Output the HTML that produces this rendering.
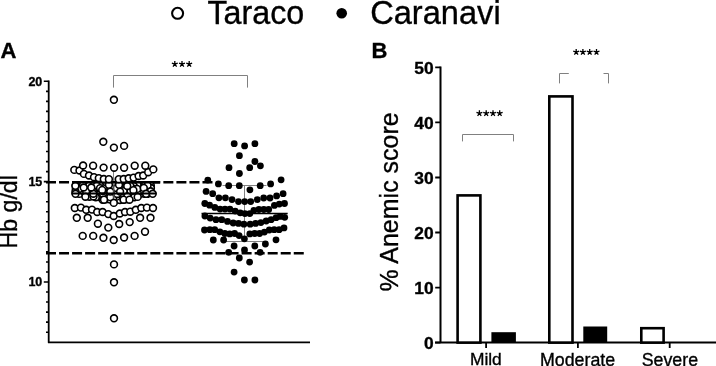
<!DOCTYPE html>
<html><head><meta charset="utf-8"><style>
html,body{margin:0;padding:0;background:#fff;width:716px;height:366px;overflow:hidden}
svg{display:block;filter:grayscale(1)}
text{font-family:"Liberation Sans", sans-serif;fill:#000;stroke:#000;stroke-width:0.35px}
</style></head><body>
<svg width="716" height="366" viewBox="0 0 716 366">
<circle cx="177.6" cy="13.3" r="5.5" fill="none" stroke="#000" stroke-width="2.1"/>
<text transform="translate(207.4,23.6) scale(1,1.04)" font-size="32.3">Taraco</text>
<circle cx="341.7" cy="13.2" r="5.3" fill="#000"/>
<text transform="translate(370.2,23.6) scale(1,1.04)" font-size="32.6">Caranavi</text>
<text x="0.5" y="57.6" font-size="22" font-weight="bold">A</text>
<text x="371.6" y="57.7" font-size="22" font-weight="bold">B</text>
<path d="M48.7,80.4 V342.4 H310" fill="none" stroke="#000" stroke-width="1.8" stroke-linejoin="round"/>
<path d="M46,332.18 H48.7 M46,322.14 H48.7 M46,312.11 H48.7 M46,302.07 H48.7 M46,292.04 H48.7 M43.8,282 H48.7 M46,271.96 H48.7 M46,261.93 H48.7 M46,251.9 H48.7 M46,241.86 H48.7 M46,231.82 H48.7 M46,221.79 H48.7 M46,211.75 H48.7 M46,201.72 H48.7 M46,191.69 H48.7 M43.8,181.65 H48.7 M46,171.62 H48.7 M46,161.58 H48.7 M46,151.54 H48.7 M46,141.51 H48.7 M46,131.47 H48.7 M46,121.44 H48.7 M46,111.41 H48.7 M46,101.37 H48.7 M46,91.34 H48.7 M43.8,81.3 H48.7" stroke="#000" stroke-width="1.6"/>
<text x="42.3" y="85.6" font-size="12.5" font-weight="bold" text-anchor="end">20</text>
<text x="42.3" y="185.95" font-size="12.5" font-weight="bold" text-anchor="end">15</text>
<text x="42.3" y="286.3" font-size="12.5" font-weight="bold" text-anchor="end">10</text>
<text transform="translate(17.4,248.6) rotate(-90)" font-size="23.2">Hb g/dl</text>
<path d="M46,182.3 H212.6 M46,253.3 H304" stroke="#000" stroke-width="2.5" stroke-dasharray="10 3.04"/>
<path d="M113.5,87.6 V75.5 H247.5 V87.6" fill="none" stroke="#808080" stroke-width="1"/>
<path d="M244.5,185.5 V241.5 M222.5,185.5 H266.5 M222.5,241.5 H266.5" stroke="#808080" stroke-width="1"/>
<path d="M113.5,168 V204" stroke="#808080" stroke-width="1"/>
<g fill="#000"><circle cx="234.2" cy="143.7" r="3.4"/><circle cx="244.6" cy="145.9" r="3.4"/><circle cx="254.9" cy="143.7" r="3.4"/><circle cx="239.4" cy="155.7" r="3.4"/><circle cx="254.9" cy="161.5" r="3.4"/><circle cx="260.4" cy="165.8" r="3.4"/><circle cx="229" cy="167.7" r="3.4"/><circle cx="249.7" cy="167.7" r="3.4"/><circle cx="239.4" cy="173.5" r="3.4"/><circle cx="281.1" cy="179.8" r="3.4"/><circle cx="207.8" cy="180.1" r="3.4"/><circle cx="218.4" cy="183.9" r="3.4"/><circle cx="228.7" cy="185.7" r="3.4"/><circle cx="239.3" cy="185.7" r="3.4"/><circle cx="249.9" cy="189.8" r="3.4"/><circle cx="260.2" cy="185.7" r="3.4"/><circle cx="270.6" cy="183.9" r="3.4"/><circle cx="206.1" cy="191.4" r="3.4"/><circle cx="212.7" cy="193.7" r="3.4"/><circle cx="218.9" cy="197.8" r="3.4"/><circle cx="225.4" cy="197.8" r="3.4"/><circle cx="232" cy="199.6" r="3.4"/><circle cx="238.5" cy="201.6" r="3.4"/><circle cx="244.7" cy="201.6" r="3.4"/><circle cx="250.7" cy="201.6" r="3.4"/><circle cx="257.3" cy="199.6" r="3.4"/><circle cx="263.7" cy="198" r="3.4"/><circle cx="270" cy="198" r="3.4"/><circle cx="276.6" cy="195.9" r="3.4"/><circle cx="283.1" cy="193.7" r="3.4"/><circle cx="204.8" cy="203.5" r="3.4"/><circle cx="209.6" cy="205.2" r="3.4"/><circle cx="214.8" cy="207.4" r="3.4"/><circle cx="220.1" cy="209.1" r="3.4"/><circle cx="225" cy="209.1" r="3.4"/><circle cx="229.9" cy="209.1" r="3.4"/><circle cx="235.2" cy="211.1" r="3.4"/><circle cx="240.2" cy="212.8" r="3.4"/><circle cx="244.9" cy="213.6" r="3.4"/><circle cx="249.8" cy="213.6" r="3.4"/><circle cx="253.9" cy="210.3" r="3.4"/><circle cx="258.9" cy="209.5" r="3.4"/><circle cx="263.8" cy="209.5" r="3.4"/><circle cx="268.7" cy="209.5" r="3.4"/><circle cx="274.4" cy="205.4" r="3.4"/><circle cx="279.3" cy="204.1" r="3.4"/><circle cx="284.5" cy="203.5" r="3.4"/><circle cx="204.9" cy="216" r="3.4"/><circle cx="210.2" cy="218.1" r="3.4"/><circle cx="216" cy="219.7" r="3.4"/><circle cx="221.7" cy="219.7" r="3.4"/><circle cx="227.5" cy="221.4" r="3.4"/><circle cx="233.2" cy="223" r="3.4"/><circle cx="238.5" cy="223.4" r="3.4"/><circle cx="243.9" cy="224.2" r="3.4"/><circle cx="250.2" cy="224.2" r="3.4"/><circle cx="255.6" cy="223.4" r="3.4"/><circle cx="260.9" cy="222.6" r="3.4"/><circle cx="266.2" cy="221" r="3.4"/><circle cx="271.1" cy="219.7" r="3.4"/><circle cx="276.1" cy="217.7" r="3.4"/><circle cx="280.2" cy="216.4" r="3.4"/><circle cx="284.7" cy="217.3" r="3.4"/><circle cx="204.5" cy="230" r="3.4"/><circle cx="209.8" cy="229.7" r="3.4"/><circle cx="214.7" cy="229.7" r="3.4"/><circle cx="219.9" cy="231.8" r="3.4"/><circle cx="224.8" cy="233.5" r="3.4"/><circle cx="229.7" cy="233.9" r="3.4"/><circle cx="234.6" cy="233.5" r="3.4"/><circle cx="239.1" cy="235.6" r="3.4"/><circle cx="244.4" cy="238.8" r="3.4"/><circle cx="249.8" cy="233.9" r="3.4"/><circle cx="254.7" cy="233.5" r="3.4"/><circle cx="259.6" cy="233.5" r="3.4"/><circle cx="264.4" cy="232.1" r="3.4"/><circle cx="269.3" cy="230" r="3.4"/><circle cx="274.2" cy="229.7" r="3.4"/><circle cx="279.1" cy="229.7" r="3.4"/><circle cx="284" cy="227.9" r="3.4"/><circle cx="213.3" cy="240" r="3.4"/><circle cx="223.6" cy="240" r="3.4"/><circle cx="234.1" cy="246" r="3.4"/><circle cx="244.5" cy="250" r="3.4"/><circle cx="254.8" cy="246" r="3.4"/><circle cx="265.4" cy="244" r="3.4"/><circle cx="276" cy="239.8" r="3.4"/><circle cx="228.7" cy="252.3" r="3.4"/><circle cx="260.1" cy="252.3" r="3.4"/><circle cx="239.3" cy="258" r="3.4"/><circle cx="249.6" cy="262.1" r="3.4"/><circle cx="234.1" cy="272.1" r="3.4"/><circle cx="244.4" cy="280" r="3.4"/><circle cx="254.9" cy="280" r="3.4"/></g>
<g fill="#fff" stroke="#000" stroke-width="1.6"><circle cx="82.7" cy="235.9" r="3.4"/><circle cx="93.2" cy="235.9" r="3.4"/><circle cx="103.4" cy="237.8" r="3.4"/><circle cx="113.7" cy="240" r="3.4"/><circle cx="124.1" cy="237.5" r="3.4"/><circle cx="134.6" cy="235.9" r="3.4"/><circle cx="145" cy="231.7" r="3.4"/><circle cx="76.8" cy="217.8" r="3.4"/><circle cx="87.7" cy="217.8" r="3.4"/><circle cx="97.9" cy="223.7" r="3.4"/><circle cx="108.3" cy="227.6" r="3.4"/><circle cx="119.2" cy="224" r="3.4"/><circle cx="129.7" cy="222.1" r="3.4"/><circle cx="140.1" cy="217.8" r="3.4"/><circle cx="150.5" cy="217.8" r="3.4"/><circle cx="74.8" cy="208" r="3.4"/><circle cx="80.9" cy="207.6" r="3.4"/><circle cx="86.2" cy="209.8" r="3.4"/><circle cx="92" cy="209.6" r="3.4"/><circle cx="97.2" cy="212" r="3.4"/><circle cx="102.6" cy="212" r="3.4"/><circle cx="108.3" cy="214.1" r="3.4"/><circle cx="113.7" cy="216" r="3.4"/><circle cx="119.8" cy="213.5" r="3.4"/><circle cx="125" cy="212" r="3.4"/><circle cx="130.3" cy="211.7" r="3.4"/><circle cx="135.8" cy="209.8" r="3.4"/><circle cx="141.3" cy="208" r="3.4"/><circle cx="146.9" cy="207.6" r="3.4"/><circle cx="153" cy="208" r="3.4"/><circle cx="123.86" cy="185.98" r="3.4"/><circle cx="123.64" cy="193.69" r="3.4"/><circle cx="83.13" cy="193.53" r="3.4"/><circle cx="140.16" cy="185.32" r="3.4"/><circle cx="116.22" cy="191.32" r="3.4"/><circle cx="144.12" cy="187.93" r="3.4"/><circle cx="96.93" cy="191.21" r="3.4"/><circle cx="116.56" cy="185.13" r="3.4"/><circle cx="106.34" cy="187.96" r="3.4"/><circle cx="130.02" cy="193.78" r="3.4"/><circle cx="83.02" cy="188.83" r="3.4"/><circle cx="96.02" cy="193.94" r="3.4"/><circle cx="119.87" cy="196.37" r="3.4"/><circle cx="93.43" cy="188.86" r="3.4"/><circle cx="100.04" cy="193.6" r="3.4"/><circle cx="107.17" cy="191.22" r="3.4"/><circle cx="140.37" cy="187.98" r="3.4"/><circle cx="99.72" cy="191.42" r="3.4"/><circle cx="110.21" cy="185.16" r="3.4"/><circle cx="113.3" cy="191.28" r="3.4"/><circle cx="110.43" cy="193.67" r="3.4"/><circle cx="124.05" cy="187.94" r="3.4"/><circle cx="113.3" cy="200.04" r="3.4"/><circle cx="120.64" cy="185.57" r="3.4"/><circle cx="110.06" cy="190.71" r="3.4"/><circle cx="137.65" cy="185.2" r="3.4"/><circle cx="150.81" cy="185.49" r="3.4"/><circle cx="120.36" cy="190.76" r="3.4"/><circle cx="133.73" cy="186.04" r="3.4"/><circle cx="119.87" cy="193.62" r="3.4"/><circle cx="144.35" cy="193.77" r="3.4"/><circle cx="79.24" cy="185.7" r="3.4"/><circle cx="79.18" cy="191.66" r="3.4"/><circle cx="79.16" cy="193.88" r="3.4"/><circle cx="86.63" cy="188.89" r="3.4"/><circle cx="89.37" cy="193.72" r="3.4"/><circle cx="107.11" cy="196.52" r="3.4"/><circle cx="83.28" cy="191.08" r="3.4"/><circle cx="85.62" cy="185.94" r="3.4"/><circle cx="100.26" cy="197.29" r="3.4"/><circle cx="130.66" cy="188.23" r="3.4"/><circle cx="95.81" cy="197.24" r="3.4"/><circle cx="86.28" cy="194.24" r="3.4"/><circle cx="89.5" cy="196.71" r="3.4"/><circle cx="103.12" cy="197.25" r="3.4"/><circle cx="140.16" cy="193.79" r="3.4"/><circle cx="93.5" cy="196.46" r="3.4"/><circle cx="96.89" cy="188.47" r="3.4"/><circle cx="75.82" cy="188.49" r="3.4"/><circle cx="82.95" cy="185.17" r="3.4"/><circle cx="107" cy="193.94" r="3.4"/><circle cx="119.95" cy="188.67" r="3.4"/><circle cx="127.37" cy="194.34" r="3.4"/><circle cx="89.77" cy="191.3" r="3.4"/><circle cx="133.23" cy="190.76" r="3.4"/><circle cx="102.99" cy="193.83" r="3.4"/><circle cx="150.93" cy="188.06" r="3.4"/><circle cx="137.57" cy="193.85" r="3.4"/><circle cx="106.21" cy="199.4" r="3.4"/><circle cx="110.2" cy="199.62" r="3.4"/><circle cx="134.17" cy="194.14" r="3.4"/><circle cx="89.81" cy="188.06" r="3.4"/><circle cx="116.93" cy="199.44" r="3.4"/><circle cx="79.5" cy="188.8" r="3.4"/><circle cx="110.42" cy="188.89" r="3.4"/><circle cx="75.45" cy="191.57" r="3.4"/><circle cx="127.14" cy="187.94" r="3.4"/><circle cx="126.82" cy="199.3" r="3.4"/><circle cx="86.15" cy="191.22" r="3.4"/><circle cx="147.04" cy="188.31" r="3.4"/><circle cx="106.63" cy="185.84" r="3.4"/><circle cx="123.71" cy="196.59" r="3.4"/><circle cx="144.56" cy="185.54" r="3.4"/><circle cx="134.26" cy="188.88" r="3.4"/><circle cx="130.88" cy="196.99" r="3.4"/><circle cx="137.41" cy="191.66" r="3.4"/><circle cx="140.3" cy="191.16" r="3.4"/><circle cx="113.71" cy="185.69" r="3.4"/><circle cx="89.31" cy="185.33" r="3.4"/><circle cx="127.22" cy="191.05" r="3.4"/><circle cx="103.36" cy="185.97" r="3.4"/><circle cx="147.22" cy="193.92" r="3.4"/><circle cx="119.9" cy="199.96" r="3.4"/><circle cx="93.59" cy="185.57" r="3.4"/><circle cx="123.57" cy="199.88" r="3.4"/><circle cx="99.97" cy="185.25" r="3.4"/><circle cx="102.62" cy="199.85" r="3.4"/><circle cx="137.21" cy="188.9" r="3.4"/><circle cx="123.75" cy="191.17" r="3.4"/><circle cx="116.55" cy="196.64" r="3.4"/><circle cx="102.89" cy="191" r="3.4"/><circle cx="144.11" cy="191.02" r="3.4"/><circle cx="147.24" cy="191.01" r="3.4"/><circle cx="113.2" cy="194.15" r="3.4"/><circle cx="113.6" cy="196.82" r="3.4"/><circle cx="103.6" cy="188.47" r="3.4"/><circle cx="112.91" cy="188.7" r="3.4"/><circle cx="110.29" cy="197.14" r="3.4"/><circle cx="96.8" cy="185.58" r="3.4"/><circle cx="93.07" cy="191.32" r="3.4"/><circle cx="93.36" cy="193.74" r="3.4"/><circle cx="117.26" cy="193.95" r="3.4"/><circle cx="130.65" cy="191.44" r="3.4"/><circle cx="75.69" cy="185.64" r="3.4"/><circle cx="130.27" cy="185.9" r="3.4"/><circle cx="134.31" cy="197.2" r="3.4"/><circle cx="116.69" cy="188.05" r="3.4"/><circle cx="127.37" cy="196.35" r="3.4"/><circle cx="100.06" cy="188.11" r="3.4"/><circle cx="147.55" cy="185.4" r="3.4"/><circle cx="127.26" cy="186.02" r="3.4"/><circle cx="137.68" cy="196.88" r="3.4"/><circle cx="150.64" cy="191.3" r="3.4"/><circle cx="75.4" cy="185.8" r="3.4"/><circle cx="83.7" cy="187.5" r="3.4"/><circle cx="91.3" cy="187.5" r="3.4"/><circle cx="108.9" cy="184.8" r="3.4"/><circle cx="119" cy="184.8" r="3.4"/><circle cx="143.8" cy="187.9" r="3.4"/><circle cx="102.2" cy="189.9" r="3.4"/><circle cx="110.3" cy="191.6" r="3.4"/><circle cx="120.1" cy="191.6" r="3.4"/><circle cx="133.4" cy="190.2" r="3.4"/><circle cx="75.5" cy="193.8" r="3.4"/><circle cx="146.1" cy="193.8" r="3.4"/><circle cx="152.7" cy="193.8" r="3.4"/><circle cx="85.4" cy="196.7" r="3.4"/><circle cx="104" cy="199.7" r="3.4"/><circle cx="113.8" cy="202.9" r="3.4"/><circle cx="123.6" cy="199.7" r="3.4"/><circle cx="129.5" cy="199.7" r="3.4"/></g>
<path d="M113.9,177.5 V198.6" stroke="#808080" stroke-width="1"/>
<path d="M71.4,193.6 H156.5" stroke="#000" stroke-width="2"/>
<path d="M72,182.3 H160" stroke="#000" stroke-width="2.4"/>
<g fill="#fff" stroke="#000" stroke-width="1.6"><circle cx="74.3" cy="169.9" r="3.4"/><circle cx="79.5" cy="170.5" r="3.4"/><circle cx="83.9" cy="173.9" r="3.4"/><circle cx="89" cy="175.5" r="3.4"/><circle cx="94" cy="177.2" r="3.4"/><circle cx="98.8" cy="178.1" r="3.4"/><circle cx="103.8" cy="179" r="3.4"/><circle cx="108.9" cy="179.2" r="3.4"/><circle cx="118.8" cy="179.2" r="3.4"/><circle cx="123.7" cy="179" r="3.4"/><circle cx="128.7" cy="178.3" r="3.4"/><circle cx="133.6" cy="177.6" r="3.4"/><circle cx="138.6" cy="176" r="3.4"/><circle cx="143.2" cy="175.5" r="3.4"/><circle cx="148.2" cy="172.2" r="3.4"/><circle cx="153.3" cy="169.4" r="3.4"/><circle cx="83.1" cy="165.5" r="3.4"/><circle cx="93.1" cy="165.7" r="3.4"/><circle cx="103.6" cy="167.6" r="3.4"/><circle cx="114.1" cy="167.7" r="3.4"/><circle cx="124.1" cy="167.7" r="3.4"/><circle cx="134.7" cy="165.7" r="3.4"/><circle cx="145.3" cy="165.7" r="3.4"/><circle cx="113.9" cy="99.8" r="3.4"/><circle cx="103.3" cy="141.8" r="3.4"/><circle cx="113.9" cy="147.6" r="3.4"/><circle cx="124.1" cy="145.9" r="3.4"/><circle cx="114" cy="264.4" r="3.4"/><circle cx="114" cy="282.3" r="3.4"/><circle cx="114" cy="318.3" r="3.4"/></g>
<path d="M201.5,213.5 H287.7" stroke="#000" stroke-width="1.4"/>
<path d="M174.8,64.1 L174.8,61 M174.8,64.1 L177.75,63.14 M174.8,64.1 L176.62,66.61 M174.8,64.1 L172.98,66.61 M174.8,64.1 L171.85,63.14 M182,64.1 L182,61 M182,64.1 L184.95,63.14 M182,64.1 L183.82,66.61 M182,64.1 L180.18,66.61 M182,64.1 L179.05,63.14 M189.2,64.1 L189.2,61 M189.2,64.1 L192.15,63.14 M189.2,64.1 L191.02,66.61 M189.2,64.1 L187.38,66.61 M189.2,64.1 L186.25,63.14" stroke="#000" stroke-width="1.3" fill="none"/>
<path d="M440.5,66.4 V342.6 M435,342.6 H716" fill="none" stroke="#000" stroke-width="2"/>
<path d="M435.2,342.6 H440.5 M435.2,287.56 H440.5 M435.2,232.52 H440.5 M435.2,177.48 H440.5 M435.2,122.44 H440.5 M435.2,67.4 H440.5 M486.1,342.6 V348 M577.9,342.6 V348 M669.7,342.6 V348" stroke="#000" stroke-width="1.8"/>
<text x="433.6" y="348.7" font-size="17.4" font-weight="bold" text-anchor="end">0</text>
<text x="433.6" y="293.66" font-size="17.4" font-weight="bold" text-anchor="end">10</text>
<text x="433.6" y="238.62" font-size="17.4" font-weight="bold" text-anchor="end">20</text>
<text x="433.6" y="183.58" font-size="17.4" font-weight="bold" text-anchor="end">30</text>
<text x="433.6" y="128.54" font-size="17.4" font-weight="bold" text-anchor="end">40</text>
<text x="433.6" y="73.5" font-size="17.4" font-weight="bold" text-anchor="end">50</text>
<text transform="translate(398,291.5) rotate(-90)" font-size="25">% Anemic score</text>
<rect x="457.6" y="195.4" width="22.8" height="147.2" fill="#fff" stroke="#000" stroke-width="2.6"/>
<rect x="549.3" y="96.4" width="23.2" height="246.2" fill="#fff" stroke="#000" stroke-width="2.6"/>
<rect x="641.3" y="328.2" width="22.3" height="14.4" fill="#fff" stroke="#000" stroke-width="2.6"/>
<rect x="491.4" y="332.2" width="24.5" height="10.4" fill="#000"/>
<rect x="583.3" y="326.5" width="23.9" height="16.1" fill="#000"/>
<path d="M462.5,141.4 V134.5 H513.5 V141.4 M559.5,83.4 V73.5 H568.8 M603.5,73.5 H608.5 V83.4" fill="none" stroke="#808080" stroke-width="1"/>
<path d="M479.4,113.3 L479.4,110.2 M479.4,113.3 L482.35,112.34 M479.4,113.3 L481.22,115.81 M479.4,113.3 L477.58,115.81 M479.4,113.3 L476.45,112.34 M486.2,113.3 L486.2,110.2 M486.2,113.3 L489.15,112.34 M486.2,113.3 L488.02,115.81 M486.2,113.3 L484.38,115.81 M486.2,113.3 L483.25,112.34 M493,113.3 L493,110.2 M493,113.3 L495.95,112.34 M493,113.3 L494.82,115.81 M493,113.3 L491.18,115.81 M493,113.3 L490.05,112.34 M499.7,113.3 L499.7,110.2 M499.7,113.3 L502.65,112.34 M499.7,113.3 L501.52,115.81 M499.7,113.3 L497.88,115.81 M499.7,113.3 L496.75,112.34" stroke="#000" stroke-width="1.3" fill="none"/>
<path d="M576.2,52.2 L576.2,49.1 M576.2,52.2 L579.15,51.24 M576.2,52.2 L578.02,54.71 M576.2,52.2 L574.38,54.71 M576.2,52.2 L573.25,51.24 M582.9,52.2 L582.9,49.1 M582.9,52.2 L585.85,51.24 M582.9,52.2 L584.72,54.71 M582.9,52.2 L581.08,54.71 M582.9,52.2 L579.95,51.24 M589.7,52.2 L589.7,49.1 M589.7,52.2 L592.65,51.24 M589.7,52.2 L591.52,54.71 M589.7,52.2 L587.88,54.71 M589.7,52.2 L586.75,51.24 M596.5,52.2 L596.5,49.1 M596.5,52.2 L599.45,51.24 M596.5,52.2 L598.32,54.71 M596.5,52.2 L594.68,54.71 M596.5,52.2 L593.55,51.24" stroke="#000" stroke-width="1.3" fill="none"/>
<text x="469.9" y="365.4" font-size="17.4">Mild</text>
<text x="540" y="365.7" font-size="17.8">Moderate</text>
<text x="641.7" y="365.5" font-size="17.8">Severe</text>
</svg>
</body></html>
